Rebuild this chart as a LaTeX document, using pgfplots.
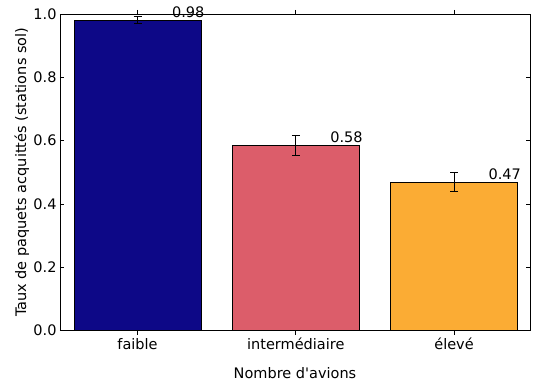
\documentclass[border=0pt]{standalone}
\usepackage{fontspec}
\setmainfont{DejaVu Sans}[Ligatures=TeXOff]
\usepackage{pgfplots}
\pgfplotsset{compat=1.18}
\definecolor{cA}{HTML}{0D0887}
\definecolor{cB}{HTML}{DC5D6A}
\definecolor{cC}{HTML}{FBAC34}
\begin{document}
\begin{tikzpicture}[font=\fontsize{14.5bp}{17bp}\selectfont]
\useasboundingbox (-60bp,-59.3bp) rectangle (474bp,330.7bp);
\begin{axis}[
  at={(0,0)}, anchor=south west,
  scale only axis, width=470bp, height=316.7bp,
  xmin=-0.49, xmax=2.48, ymin=0, ymax=1,
  xtick={0,1,2}, xticklabels={faible,intermédiaire,élevé},
  ytick={0,0.2,0.4,0.6,0.8,1.0},
  /pgf/number format/assume math mode=true,
  yticklabel style={/pgf/number format/.cd, fixed, fixed zerofill, precision=1},
  tick align=inside, major tick length=4bp,
  tick style={black, line width=0.8pt},
  axis line style={black, line width=0.8pt},
  xlabel={Nombre d'avions}, ylabel={Taux de paquets acquittés (stations sol)},
  xlabel style={at={(axis description cs:0.5,-0.1326)}, anchor=center},
  ylabel style={at={(axis description cs:-0.081,0.5)}, anchor=center, rotate=0},
  ybar, bar width=0.8, bar shift=0pt,
  error bars/y dir=both, error bars/y explicit,
  error bars/error bar style={black, line width=0.8pt},
  error bars/error mark options={rotate=90, black, line width=0.8pt, mark size=4bp},
]
\addplot[fill=cA, draw=black, line width=0.6pt] coordinates {(0,0.981) +- (0,0.010)};
\addplot[fill=cB, draw=black, line width=0.6pt] coordinates {(1,0.584) +- (0,0.032)};
\addplot[fill=cC, draw=black, line width=0.6pt] coordinates {(2,0.469) +- (0,0.030)};
\addplot[draw=none, mark=none, sharp plot, nodes near coords, point meta=explicit symbolic,
  nodes near coords style={anchor=base, inner sep=0pt, yshift=3bp, black}]
  table[meta=lab] {
x y lab
0.32 0.981 0.98
1.32 0.584 0.58
2.32 0.469 0.47
};
\end{axis}
\end{tikzpicture}
\end{document}
